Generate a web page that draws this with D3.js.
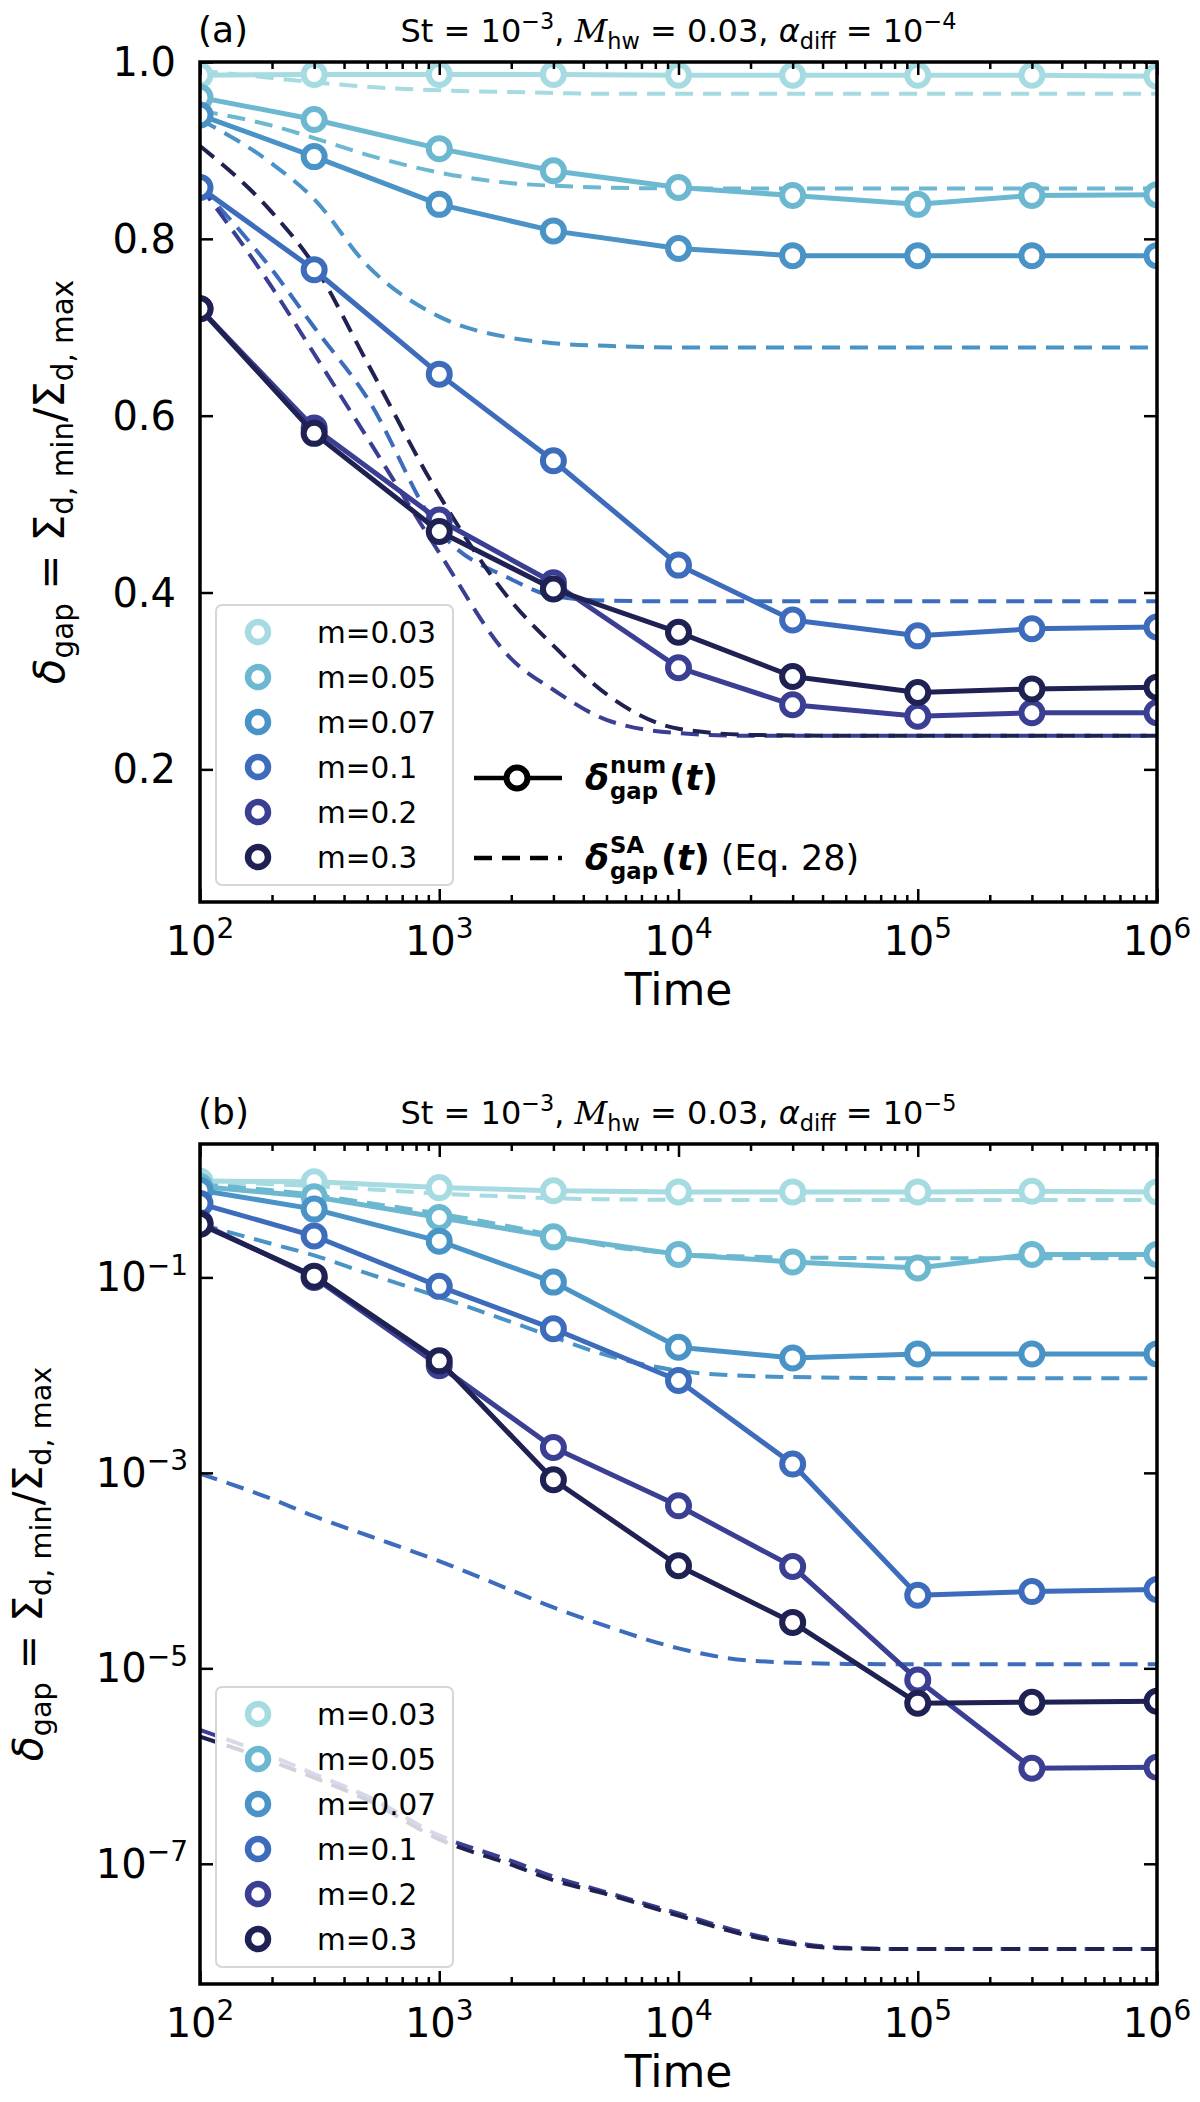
<!DOCTYPE html>
<html>
<head>
<meta charset="utf-8">
<script src="https://cdn.jsdelivr.net/npm/d3@7"></script>
<style>
  body { margin: 0; background: #fff; }
  svg { display: block; font-family: "DejaVu Sans", sans-serif; }
  text { white-space: pre; }
</style>
</head>
<body>
<svg id="fig" width="1200" height="2102"></svg>
<script>
// sample times of the numerical runs and of the semi-analytic curves
var times = [1e2, 3e2, 1e3, 3e3, 1e4, 3e4, 1e5, 3e5, 1e6];
var saTimes = [1e2, 2e2, 3e2, 5e2, 1e3, 2e3, 3e3, 5e3, 1e4, 2e4, 5e4, 1e5, 1e6];

var mLabels = ["m=0.03", "m=0.05", "m=0.07", "m=0.1", "m=0.2", "m=0.3"];
var colors = ["#a6dbe1", "#6cb8d1", "#4a93c6", "#3d6cbd", "#3b3f93", "#1e2151"];

// panel (a): alpha_diff = 1e-4
var numA = [
  [0.985, 0.986, 0.986, 0.986, 0.985, 0.985, 0.985, 0.985, 0.984],
  [0.960, 0.935, 0.902, 0.877, 0.858, 0.849, 0.839, 0.849, 0.850],
  [0.940, 0.893, 0.839, 0.809, 0.789, 0.781, 0.781, 0.781, 0.781],
  [0.858, 0.765, 0.647, 0.549, 0.431, 0.369, 0.351, 0.359, 0.361],
  [0.721, 0.586, 0.482, 0.411, 0.315, 0.273, 0.260, 0.264, 0.264],
  [0.721, 0.580, 0.469, 0.404, 0.355, 0.305, 0.287, 0.291, 0.293]
];
var saA = [
  [0.990, 0.982, 0.977, 0.972, 0.968, 0.966, 0.965, 0.964, 0.964, 0.964, 0.964, 0.964, 0.964],
  [0.945, 0.928, 0.914, 0.895, 0.875, 0.863, 0.860, 0.858, 0.857, 0.857, 0.857, 0.857, 0.857],
  [0.935, 0.885, 0.845, 0.770, 0.712, 0.688, 0.682, 0.679, 0.677, 0.677, 0.677, 0.677, 0.677],
  [0.860, 0.765, 0.700, 0.620, 0.470, 0.415, 0.396, 0.391, 0.390, 0.390, 0.390, 0.390, 0.390],
  [0.860, 0.745, 0.670, 0.575, 0.445, 0.325, 0.290, 0.256, 0.241, 0.238, 0.238, 0.238, 0.238],
  [0.905, 0.830, 0.770, 0.660, 0.510, 0.390, 0.340, 0.285, 0.246, 0.239, 0.238, 0.238, 0.238]
];

// panel (b): alpha_diff = 1e-5
var numB = [
  [0.97, 0.95, 0.83, 0.77, 0.75, 0.75, 0.75, 0.76, 0.75],
  [0.85, 0.67, 0.41, 0.26, 0.172, 0.144, 0.125, 0.172, 0.172],
  [0.78, 0.50, 0.235, 0.0895, 0.0193, 0.015, 0.0165, 0.0165, 0.0165],
  [0.57, 0.265, 0.081, 0.0298, 0.0088, 0.00123, 5.6e-5, 6.1e-5, 6.4e-5],
  [0.36, 0.10, 0.0125, 0.00182, 4.6e-4, 1.1e-4, 7.6e-6, 9.5e-7, 9.7e-7],
  [0.35, 0.103, 0.014, 8.5e-4, 1.12e-4, 2.95e-5, 4.4e-6, 4.5e-6, 4.6e-6]
];
var saB = [
  [0.95, 0.90, 0.86, 0.80, 0.72, 0.67, 0.645, 0.63, 0.622, 0.62, 0.62, 0.62, 0.62],
  [0.90, 0.78, 0.70, 0.58, 0.45, 0.33, 0.27, 0.21, 0.175, 0.163, 0.158, 0.157, 0.157],
  [0.35, 0.22, 0.168, 0.11, 0.063, 0.035, 0.0245, 0.016, 0.0111, 0.0098, 0.0094, 0.0093, 0.0093],
  [9.8e-4, 5.4e-4, 3.6e-4, 2.3e-4, 1.25e-4, 6.3e-5, 4.2e-5, 2.7e-5, 1.6e-5, 1.2e-5, 1.11e-5, 1.1e-5, 1.1e-5],
  [2.34e-6, 1.26e-6, 8.3e-7, 4.9e-7, 1.95e-7, 1.07e-7, 7.4e-8, 5.1e-8, 3.1e-8, 1.9e-8, 1.38e-8, 1.34e-8, 1.34e-8],
  [2.0e-6, 1.12e-6, 7.6e-7, 4.5e-7, 1.78e-7, 9.8e-8, 6.8e-8, 4.9e-8, 2.95e-8, 1.82e-8, 1.36e-8, 1.34e-8, 1.34e-8]
];

var xTicks = [1e2, 1e3, 1e4, 1e5, 1e6];
var yTicksA = [0.2, 0.4, 0.6, 0.8, 1.0];
var yTicksB = [1e-1, 1e-3, 1e-5, 1e-7];

var svg = d3.select("#fig"),
    left = 200, width = 957, height = 840;

var x = d3.scaleLog().domain([1e2, 1e6]).range([0, width]);

var xMinor = [];
[1e2, 1e3, 1e4, 1e5].forEach(function(d) {
  for (var k = 2; k < 10; k++) xMinor.push(d * k);
});

// text with sub/superscript pieces
function rich(sel, parts, fs) {
  var shift = 0;
  parts.forEach(function(p) {
    var target = p.s === "sup" ? -0.42 * fs : (p.s === "sub" ? 0.22 * fs : 0);
    var ts = sel.append("tspan").attr("dy", target - shift).text(p.t);
    shift = target;
    if (p.s) ts.attr("font-size", 0.7 * fs);
    if (p.it) ts.attr("font-style", "italic");
    if (p.serif) ts.attr("font-family", "DejaVu Serif").attr("font-style", "italic");
  });
}

function drawPanel(cfg) {
  var g = svg.append("g").attr("transform", "translate(" + left + "," + cfg.top + ")");
  var y = cfg.y;

  g.append("clipPath").attr("id", "clip" + cfg.id)
    .append("rect").attr("width", width).attr("height", height);

  var data = g.append("g").attr("clip-path", "url(#clip" + cfg.id + ")");

  var saLine = d3.line()
      .x(function(d) { return x(d[0]); })
      .y(function(d) { return y(d[1]); })
      .curve(d3.curveMonotoneX);
  var numLine = d3.line()
      .x(function(d) { return x(d[0]); })
      .y(function(d) { return y(d[1]); });

  cfg.sa.forEach(function(vals, i) {
    data.append("path")
        .datum(saTimes.map(function(t, j) { return [t, vals[j]]; }))
        .attr("fill", "none")
        .attr("stroke", colors[i])
        .attr("stroke-width", 4)
        .attr("stroke-dasharray", "18,10")
        .attr("d", saLine);
  });

  cfg.num.forEach(function(vals, i) {
    var pts = times.map(function(t, j) { return [t, vals[j]]; });
    data.append("path")
        .datum(pts)
        .attr("fill", "none")
        .attr("stroke", colors[i])
        .attr("stroke-width", 5)
        .attr("stroke-linejoin", "round")
        .attr("d", numLine);
    data.selectAll(null)
        .data(pts)
      .enter().append("circle")
        .attr("cx", function(d) { return x(d[0]); })
        .attr("cy", function(d) { return y(d[1]); })
        .attr("r", 10.5)
        .attr("fill", "#fff")
        .attr("stroke", colors[i])
        .attr("stroke-width", 6);
  });

  // ticks on all four sides, pointing inward
  function ticks(axis, vals, size, tr) {
    var a = g.append("g").attr("transform", tr || null)
        .call(axis.tickValues(vals).tickSize(-size).tickFormat(""));
    a.select(".domain").remove();
    a.selectAll("text").remove();
    a.selectAll("line").attr("stroke", "#000").attr("stroke-width", 2.5);
  }
  ticks(d3.axisBottom(x), xTicks, 13, "translate(0," + height + ")");
  ticks(d3.axisBottom(x), xMinor, 7, "translate(0," + height + ")");
  ticks(d3.axisTop(x), xTicks, 13);
  ticks(d3.axisTop(x), xMinor, 7);
  ticks(d3.axisLeft(y), cfg.yTicks, 13);
  ticks(d3.axisRight(y), cfg.yTicks, 13, "translate(" + width + ",0)");

  g.append("rect")
      .attr("width", width).attr("height", height)
      .attr("fill", "none").attr("stroke", "#000").attr("stroke-width", 3.5);

  // tick labels
  xTicks.forEach(function(t) {
    var tx = g.append("text")
        .attr("x", x(t)).attr("y", height + 53)
        .attr("text-anchor", "middle").attr("font-size", 40);
    rich(tx, [{t: "10"}, {t: String(Math.round(Math.log10(t))), s: "sup"}], 40);
  });
  cfg.yTicks.forEach(function(v) {
    var ty = g.append("text")
        .attr("x", cfg.log ? -12 : -24).attr("y", y(v) + 14)
        .attr("text-anchor", "end").attr("font-size", 40);
    if (cfg.log) rich(ty, [{t: "10"}, {t: "\u2212" + Math.round(-Math.log10(v)), s: "sup"}], 40);
    else ty.text(d3.format(".1f")(v));
  });

  g.append("text")
      .attr("x", width / 2).attr("y", height + 103)
      .attr("text-anchor", "middle").attr("font-size", 44)
      .text("Time");

  var yl = g.append("text")
      .attr("transform", "translate(" + cfg.ylabelX + "," + (height / 2) + ") rotate(-90)")
      .attr("text-anchor", "middle").attr("font-size", cfg.ylabelSize);
  rich(yl, [{t: "\u03b4", it: true}, {t: "gap", s: "sub"}, {t: " = \u03a3"}, {t: "d, min", s: "sub"},
            {t: "/\u03a3"}, {t: "d, max", s: "sub"}], cfg.ylabelSize);

  g.append("text").attr("x", -2).attr("y", -20).attr("font-size", 36).text(cfg.tag);

  var tt = g.append("text")
      .attr("x", width / 2).attr("y", -20)
      .attr("text-anchor", "middle").attr("font-size", 32);
  rich(tt, [{t: "St = 10"}, {t: "\u22123", s: "sup"}, {t: ", "}, {t: "M", serif: true}, {t: "hw", s: "sub"},
            {t: " = 0.03, "}, {t: "\u03b1", it: true}, {t: "diff", s: "sub"}, {t: " = 10"},
            {t: cfg.alpha, s: "sup"}], 32);

  // colour legend
  var lg = g.append("g").attr("transform", "translate(16," + (height - 297) + ")");
  lg.append("rect")
      .attr("width", 237).attr("height", 280).attr("rx", 6)
      .attr("fill", "#fff").attr("fill-opacity", 0.8)
      .attr("stroke", "#d6d6d6").attr("stroke-width", 2);
  mLabels.forEach(function(lab, i) {
    var yy = 27 + i * 45;
    lg.append("circle").attr("cx", 42).attr("cy", yy).attr("r", 10)
        .attr("fill", "#fff").attr("stroke", colors[i]).attr("stroke-width", 6.5);
    lg.append("text").attr("x", 101).attr("y", yy + 10.5).attr("font-size", 29.5).text(lab);
  });

  if (cfg.styleLegend) {
    var sg = g.append("g");
    var fs = 35;
    [{y: height - 124, dash: null, sup: "num", tail: ""},
     {y: height - 44, dash: "18,10", sup: "SA", tail: " (Eq. 28)"}].forEach(function(r) {
      sg.append("line").attr("x1", 274).attr("x2", 362).attr("y1", r.y).attr("y2", r.y)
          .attr("stroke", "#000").attr("stroke-width", 4.5)
          .attr("stroke-dasharray", r.dash);
      if (!r.dash) {
        sg.append("circle").attr("cx", 317).attr("cy", r.y).attr("r", 10.5)
            .attr("fill", "#fff").attr("stroke", "#000").attr("stroke-width", 6);
      }
      var bx = 385, by = r.y + 12;
      var d1 = sg.append("text").attr("x", bx).attr("y", by).attr("font-size", fs)
          .attr("font-weight", "bold").attr("font-style", "italic").text("\u03b4");
      var w1 = d1.node().getComputedTextLength();
      var sp = sg.append("text").attr("x", bx + w1 + 1).attr("y", by - 0.5 * fs)
          .attr("font-size", 0.65 * fs).attr("font-weight", "bold").text(r.sup);
      var sb = sg.append("text").attr("x", bx + w1 + 1).attr("y", by + 0.25 * fs)
          .attr("font-size", 0.65 * fs).attr("font-weight", "bold").text("gap");
      var w2 = Math.max(sp.node().getComputedTextLength(), sb.node().getComputedTextLength());
      var t3 = sg.append("text").attr("x", bx + w1 + w2 + 4).attr("y", by).attr("font-size", fs);
      t3.append("tspan").attr("font-weight", "bold").text("(");
      t3.append("tspan").attr("font-weight", "bold").attr("font-style", "italic").text("t");
      t3.append("tspan").attr("font-weight", "bold").text(")");
      if (r.tail) t3.append("tspan").text(r.tail);
    });
  }
}

drawPanel({
  id: "a", top: 62, tag: "(a)", alpha: "\u22124",
  y: d3.scaleLinear().domain([0.05, 1.0]).range([height, 0]),
  yTicks: yTicksA, log: false, ylabelX: -136, ylabelSize: 42,
  num: numA, sa: saA, styleLegend: true
});

drawPanel({
  id: "b", top: 1144, tag: "(b)", alpha: "\u22125",
  y: d3.scaleLog().domain([Math.pow(10, -8.23), Math.pow(10, 0.365)]).range([height, 0]),
  yTicks: yTicksB, log: true, ylabelX: -158, ylabelSize: 41,
  num: numB, sa: saB, styleLegend: false
});
</script>
</body>
</html>
